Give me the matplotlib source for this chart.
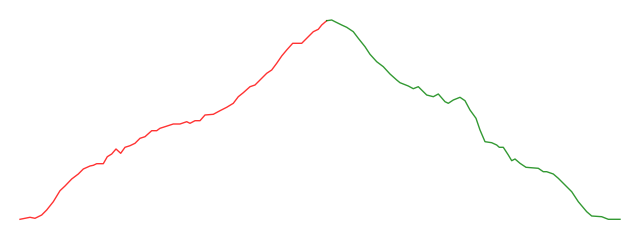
import matplotlib
matplotlib.use("Agg")
import matplotlib.pyplot as plt

# distance along the profile and height
up_dist = [20, 30, 35, 41.7, 46.7, 53.3, 60, 65, 71.7, 78.3, 83.3, 90, 93.3, 96.7,
           103.3, 107.3, 111.7, 116, 120.7, 125, 130, 135, 140, 145, 151.7, 156.7,
           160, 165, 173.3, 180, 186.7, 190, 195, 200, 205, 213.3, 220, 226.7,
           233.3, 238.3, 243.3, 250, 255, 260, 266.7, 271.7, 276.7, 281.7, 286.7,
           292.7, 301.7, 306.7, 313.3, 318.3, 321.7, 326.7]
up_height = [219.3, 217.3, 218.3, 215, 210, 201.7, 190.7, 186, 179, 174, 169, 166,
             165.3, 163.7, 163.7, 156.7, 154, 149, 153.3, 147.3, 145.7, 143.3, 138.3,
             136.7, 130.7, 130.7, 128.3, 126.7, 124, 124, 121.7, 123.3, 120.7, 120.7,
             115, 114.3, 110.7, 107.3, 103.3, 96.7, 92.7, 86.7, 85, 80, 73.3, 70,
             63.3, 56, 50, 43.3, 43.3, 38.3, 31.7, 29.3, 25, 20.7]

down_dist = [326.7, 331.7, 335, 341.7, 346.7, 353.3, 358.3, 365, 370, 376.7, 383.3,
             390, 396.7, 400, 408.3, 413.3, 418.3, 426.7, 433.3, 438.3, 445, 448.3,
             453.3, 460, 465, 470, 476, 480, 485, 491.7, 496.7, 499.3, 503.3, 508.3,
             511.7, 515, 520, 526, 538.3, 543.3, 546.7, 553.3, 558.3, 565, 571.7,
             578.3, 586.7, 591.7, 601.7, 608.3, 620]
down_height = [20.7, 20, 21.7, 25, 27.3, 31.7, 38.3, 46.7, 54.3, 61.7, 66.7, 74, 80,
               82.7, 86, 88.7, 86.7, 95, 96.7, 94, 101.7, 103.3, 100, 97.3, 100.7,
               110, 118.3, 130, 141.7, 142.7, 145, 147.3, 147.3, 155, 160.7, 159,
               163.3, 167.3, 168.3, 171.7, 171.7, 174, 178.3, 185, 191.7, 201.7,
               211.7, 216, 216.7, 219.3, 219.3]

fig = plt.figure(figsize=(6.4, 2.4), dpi=100)
ax = fig.add_axes([0, 0, 1, 1])
ax.plot(up_dist, up_height, color="red", lw=1, alpha=0.8)
ax.plot(down_dist, down_height, color="green", lw=1, alpha=0.8)
ax.set_xlim(0, 640)
ax.set_ylim(240, 0)
ax.axis("off")
fig.savefig("out.png", dpi=100)
